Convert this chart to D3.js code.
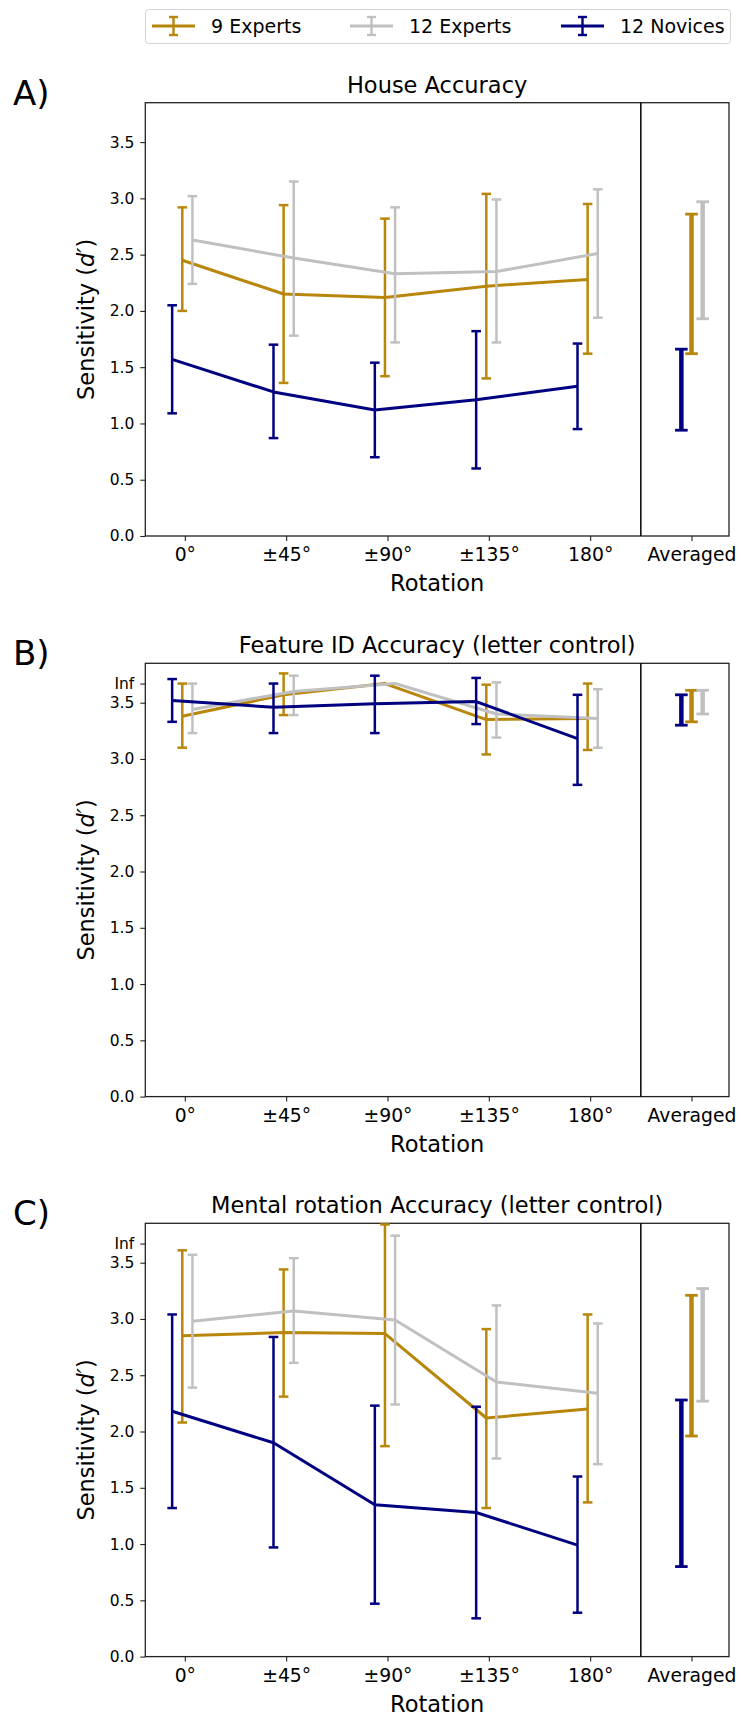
<!DOCTYPE html>
<html>
<head>
<meta charset="utf-8">
<script src="https://cdn.jsdelivr.net/npm/d3@7"></script>
<style>
  body { margin: 0; background: #fff; }
  svg { display: block; font-family: "DejaVu Sans", sans-serif; }
</style>
</head>
<body>
<div id="chart"></div>
<script>
// categories and labels
const rotations = ["0°", "±45°", "±90°", "±135°", "180°"];
const avgLabel = "Averaged";
const seriesNames = ["9 Experts", "12 Experts", "12 Novices"];
const seriesColors = ["#B8860B", "#C0C0C0", "#000080"];
const yTicks = [0, 0.5, 1, 1.5, 2, 2.5, 3, 3.5];
const infLevel = 3.67; // where "Inf" d' values are drawn

// each entry: [mean, lower, upper]
const houseExp9 = [[2.45, 2.00, 2.92], [2.15, 1.36, 2.94], [2.12, 1.42, 2.82], [2.22, 1.40, 3.04], [2.28, 1.62, 2.95]];
const houseExp12 = [[2.63, 2.24, 3.02], [2.47, 1.78, 3.15], [2.33, 1.72, 2.92], [2.35, 1.72, 2.99], [2.51, 1.94, 3.08]];
const houseNov12 = [[1.57, 1.09, 2.05], [1.28, 0.87, 1.70], [1.12, 0.70, 1.54], [1.21, 0.60, 1.82], [1.33, 0.95, 1.71]];
const houseAvg = [[1.62, 2.86], [1.93, 2.97], [0.94, 1.66]]; // [lower, upper]

const featExp9 = [[3.38, 3.10, 3.67], [3.57, 3.39, 3.76], [Infinity, null, null], [3.35, 3.04, 3.66], [3.36, 3.08, 3.67]];
const featExp12 = [[3.44, 3.23, 3.67], [3.60, 3.39, 3.74], [Infinity, null, null], [3.40, 3.19, 3.68], [3.36, 3.10, 3.62]];
const featNov12 = [[3.52, 3.33, 3.71], [3.46, 3.23, 3.67], [3.49, 3.23, 3.74], [3.51, 3.31, 3.72], [3.18, 2.77, 3.57]];
const featAvg = [[3.33, 3.61], [3.40, 3.61], [3.30, 3.57]];

const mentExp9 = [[2.85, 2.08, 3.61], [2.88, 2.31, 3.44], [2.87, 1.87, 3.84], [2.12, 1.32, 2.91], [2.20, 1.37, 3.04]];
const mentExp12 = [[2.98, 2.39, 3.57], [3.07, 2.61, 3.54], [2.99, 2.24, 3.74], [2.44, 1.76, 3.12], [2.34, 1.71, 2.96]];
const mentNov12 = [[2.18, 1.32, 3.04], [1.90, 0.97, 2.84], [1.35, 0.47, 2.23], [1.28, 0.34, 2.22], [0.99, 0.39, 1.60]];
const mentAvg = [[1.96, 3.21], [2.27, 3.27], [0.80, 2.28]];

// small horizontal dodge per series (gold, gray, navy)
const rotOffsets = [-0.025, 0.075, -0.125];
const avgOffsets = [0, 0.11, -0.1];

const panels = [
    { label: "A)", title: "House Accuracy", series: [houseExp9, houseExp12, houseNov12], avg: houseAvg, inf: false },
    { label: "B)", title: "Feature ID Accuracy (letter control)", series: [featExp9, featExp12, featNov12], avg: featAvg, inf: true },
    { label: "C)", title: "Mental rotation Accuracy (letter control)", series: [mentExp9, mentExp12, mentNov12], avg: mentAvg, inf: true }
];

const width = 741, height = 1716;
const left = 145.3, right = 729;
const panelTops = [102.7, 663.3, 1223.3];
const panelH = 433.3;

const svg = d3.select("#chart").append("svg")
    .attr("width", width)
    .attr("height", height);

const x = d3.scaleLinear().domain([-0.39, 5.37]).range([left, right]);

const val = v => (v === Infinity ? infLevel : v);

// --- Legend ---
const legend = svg.append("g").attr("class", "legend");
legend.append("rect")
    .attr("x", 145.5).attr("y", 9.5)
    .attr("width", 585).attr("height", 34)
    .attr("rx", 3)
    .attr("fill", "#fff")
    .attr("stroke", "#d4d4d4")
    .attr("stroke-width", 1);

const legendX = [152, 350, 561];
seriesNames.forEach((name, i) => {
    const gx = legendX[i], cy = 26;
    const item = legend.append("g").attr("stroke", seriesColors[i]);
    item.append("line").attr("x1", gx).attr("x2", gx + 43).attr("y1", cy).attr("y2", cy).attr("stroke-width", 3);
    item.append("line").attr("x1", gx + 21.5).attr("x2", gx + 21.5).attr("y1", cy - 9).attr("y2", cy + 9).attr("stroke-width", 2.4);
    item.append("line").attr("x1", gx + 17).attr("x2", gx + 26).attr("y1", cy - 9).attr("y2", cy - 9).attr("stroke-width", 2.4);
    item.append("line").attr("x1", gx + 17).attr("x2", gx + 26).attr("y1", cy + 9).attr("y2", cy + 9).attr("stroke-width", 2.4);
    legend.append("text")
        .attr("x", gx + 59).attr("y", cy + 7)
        .attr("font-size", "19px")
        .attr("fill", "#000")
        .text(name);
});

// --- Panels ---
panels.forEach((p, pi) => {
    const top = panelTops[pi];
    const y = d3.scaleLinear().domain([0, 3.85]).range([top + panelH, top]);
    const g = svg.append("g").attr("class", "panel");

    // panel letter and title
    g.append("text")
        .attr("x", 13).attr("y", top + 2)
        .attr("font-size", "34px")
        .text(p.label);
    g.append("text")
        .attr("x", (left + right) / 2).attr("y", top - 10)
        .attr("text-anchor", "middle")
        .attr("font-size", "22.5px")
        .text(p.title);

    // axes
    const yVals = p.inf ? yTicks.concat([infLevel]) : yTicks;
    const yAxis = g.append("g")
        .attr("transform", `translate(${left},0)`)
        .call(d3.axisLeft(y)
            .tickValues(yVals)
            .tickFormat(d => (d === infLevel ? "Inf" : d3.format(".1f")(d)))
            .tickSize(5).tickPadding(6).tickSizeOuter(0));
    yAxis.select(".domain").remove();
    yAxis.selectAll("text").attr("font-size", "15.5px").attr("font-family", "DejaVu Sans").attr("fill", "#000");
    yAxis.selectAll("line").attr("stroke", "#222").attr("stroke-width", 1.1);

    const xAxis = g.append("g")
        .attr("transform", `translate(0,${top + panelH})`)
        .call(d3.axisBottom(x)
            .tickValues([0, 1, 2, 3, 4, 5])
            .tickFormat(i => (i < 5 ? rotations[i] : avgLabel))
            .tickSize(5).tickPadding(7).tickSizeOuter(0));
    xAxis.select(".domain").remove();
    xAxis.selectAll("text").attr("font-size", "18.75px").attr("font-family", "DejaVu Sans").attr("fill", "#000");
    xAxis.selectAll("line").attr("stroke", "#222").attr("stroke-width", 1.1);

    // axis labels
    g.append("text")
        .attr("x", (left + right) / 2).attr("y", top + panelH + 55)
        .attr("text-anchor", "middle")
        .attr("font-size", "22.5px")
        .text("Rotation");
    const yl = g.append("text")
        .attr("transform", `translate(94,${top + panelH / 2}) rotate(-90)`)
        .attr("text-anchor", "middle")
        .attr("font-size", "22.5px");
    yl.append("tspan").text("Sensitivity (");
    yl.append("tspan").attr("font-style", "italic").text("d′");
    yl.append("tspan").text(")");

    // frame and separator
    g.append("rect")
        .attr("x", left).attr("y", top)
        .attr("width", right - left).attr("height", panelH)
        .attr("fill", "none")
        .attr("stroke", "#222")
        .attr("stroke-width", 1.3);
    g.append("line")
        .attr("x1", x(4.5)).attr("x2", x(4.5))
        .attr("y1", top).attr("y2", top + panelH)
        .attr("stroke", "#000")
        .attr("stroke-width", 1.5);

    // series: line + error bars
    p.series.forEach((data, si) => {
        const color = seriesColors[si];
        const sg = g.append("g");
        const pts = data.map((d, i) => ({ xi: i + rotOffsets[si], m: val(d[0]), lo: d[1], hi: d[2] }));

        const bars = pts.filter(d => d.lo !== null);
        sg.selectAll("line.err")
            .data(bars)
            .join("line")
            .attr("class", "err")
            .attr("x1", d => x(d.xi)).attr("x2", d => x(d.xi))
            .attr("y1", d => y(d.lo)).attr("y2", d => y(d.hi))
            .attr("stroke", color).attr("stroke-width", 2.5);
        ["lo", "hi"].forEach(k => {
            sg.selectAll(`line.cap-${k}`)
                .data(bars)
                .join("line")
                .attr("class", `cap-${k}`)
                .attr("x1", d => x(d.xi) - 4.8).attr("x2", d => x(d.xi) + 4.8)
                .attr("y1", d => y(d[k])).attr("y2", d => y(d[k]))
                .attr("stroke", color).attr("stroke-width", 2.5);
        });

        sg.append("path")
            .datum(pts)
            .attr("fill", "none")
            .attr("stroke", color)
            .attr("stroke-width", 3)
            .attr("stroke-linejoin", "round")
            .attr("d", d3.line().x(d => x(d.xi)).y(d => y(d.m)));

        // averaged bar
        const [lo, hi] = p.avg[si];
        const ax = x(5 + avgOffsets[si]);
        sg.append("line")
            .attr("x1", ax).attr("x2", ax)
            .attr("y1", y(lo)).attr("y2", y(hi))
            .attr("stroke", color).attr("stroke-width", 4.5);
        [lo, hi].forEach(v => {
            sg.append("line")
                .attr("x1", ax - 6.3).attr("x2", ax + 6.3)
                .attr("y1", y(v)).attr("y2", y(v))
                .attr("stroke", color).attr("stroke-width", 2.8);
        });
    });
});
</script>
</body>
</html>
